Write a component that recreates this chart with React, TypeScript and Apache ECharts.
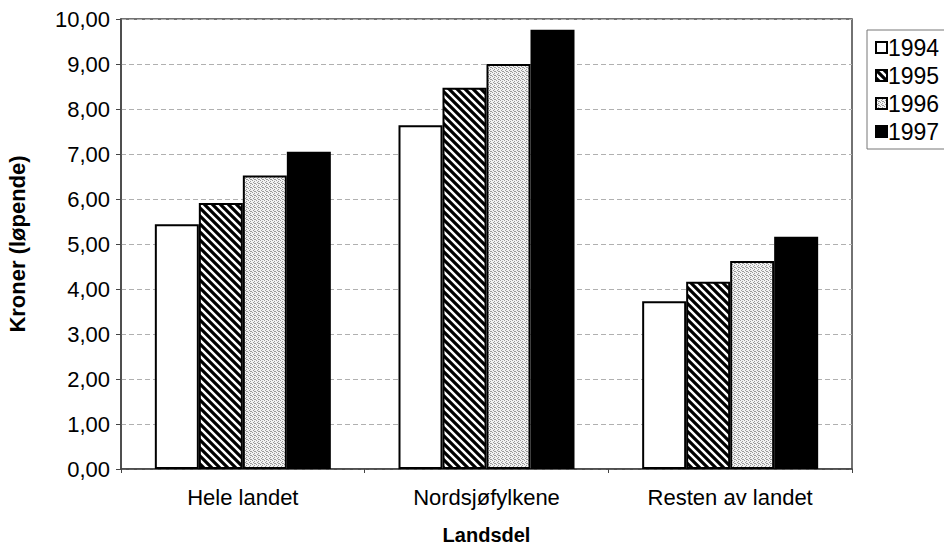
import React, { useEffect, useRef } from "react";
import * as echarts from "echarts";

const categories = ["Hele landet", "Nordsjøfylkene", "Resten av landet"];
const years = ["1994", "1995", "1996", "1997"];
const v1994 = [5.44, 7.64, 3.73];
const v1995 = [5.91, 8.47, 4.16];
const v1996 = [6.52, 9.0, 4.62];
const v1997 = [7.05, 9.76, 5.16];
const yTicks = [0, 1, 2, 3, 4, 5, 6, 7, 8, 9, 10];

const FONT = "'Liberation Sans', Arial, Helvetica, sans-serif";

function stripePattern() {
  const c = document.createElement("canvas");
  c.width = 8;
  c.height = 8;
  const g = c.getContext("2d")!;
  g.fillStyle = "#fff";
  g.fillRect(0, 0, 8, 8);
  g.strokeStyle = "#000";
  g.lineWidth = 3.2;
  g.beginPath();
  g.moveTo(-2, -2);
  g.lineTo(10, 10);
  g.moveTo(-2, 6);
  g.lineTo(2, 10);
  g.moveTo(6, -2);
  g.lineTo(10, 2);
  g.stroke();
  return { image: c, repeat: "repeat", imageWidth: 8, imageHeight: 8 } as any;
}

function stipplePattern() {
  const c = document.createElement("canvas");
  c.width = 4;
  c.height = 4;
  const g = c.getContext("2d")!;
  g.fillStyle = "#f2f2f2";
  g.fillRect(0, 0, 4, 4);
  g.fillStyle = "#9a9a9a";
  const pts = [
    [0, 0],
    [2, 1],
    [1, 2],
    [3, 3],
    [2, 3],
  ];
  pts.forEach(([x, y]) => g.fillRect(x, y, 1, 1));
  return { image: c, repeat: "repeat", imageWidth: 4, imageHeight: 4 } as any;
}

export default function App() {
  const ref = useRef<HTMLDivElement>(null);
  useEffect(() => {
    if (!ref.current) return;
    const chart = echarts.init(ref.current, null, { renderer: "svg" });
    const fills = ["#ffffff", stripePattern(), stipplePattern(), "#000000"];
    const values = [v1994, v1995, v1996, v1997];
    chart.setOption({
      animation: false,
      backgroundColor: "#ffffff",
      textStyle: { fontFamily: FONT, color: "#000" },
      grid: {
        left: 121,
        right: 92,
        top: 19,
        bottom: 80,
        show: true,
        borderColor: "#444",
        borderWidth: 1.5,
        containLabel: false,
        outerBoundsMode: "none",
      },
      legend: {
        orient: "vertical",
        left: 867,
        top: 30,
        data: years,
        icon: "rect",
        itemWidth: 11,
        itemHeight: 11,
        itemGap: 5,
        padding: [6, 10, 6, 8],
        borderColor: "#777",
        borderWidth: 1,
        textStyle: { fontFamily: FONT, fontSize: 23, color: "#000", padding: [0, 0, 0, -4] },
        itemStyle: { borderColor: "#000", borderWidth: 2 },
      },
      xAxis: {
        type: "category",
        data: categories,
        name: "Landsdel",
        nameLocation: "middle",
        nameGap: 56,
        nameTextStyle: { fontFamily: FONT, fontSize: 20, fontWeight: "bold", color: "#000" },
        axisLine: { show: true, lineStyle: { color: "#444", width: 1.5 } },
        axisTick: { show: true, length: 4, lineStyle: { color: "#444" } },
        axisLabel: { fontFamily: FONT, fontSize: 22, color: "#000", margin: 17 },
      },
      yAxis: {
        type: "value",
        min: 0,
        max: 10,
        interval: 1,
        name: "Kroner (løpende)",
        nameLocation: "middle",
        nameGap: 93,
        nameTextStyle: { fontFamily: FONT, fontSize: 22, fontWeight: "bold", color: "#000" },
        axisLine: { show: true, lineStyle: { color: "#444", width: 1.5 } },
        axisTick: { show: true, length: 5, lineStyle: { color: "#444" } },
        axisLabel: {
          fontFamily: FONT,
          fontSize: 22,
          color: "#000",
          margin: 11,
          formatter: (v: number) => (yTicks.includes(v) ? v.toFixed(2).replace(".", ",") : ""),
        },
        splitLine: { show: true, lineStyle: { color: "#b0b0b0", width: 1, type: [5, 3] } },
      },
      series: years.map((y, i) => ({
        name: y,
        type: "bar",
        data: values[i],
        barWidth: 44,
        barGap: "0%",
        itemStyle: { color: fills[i], borderColor: "#000", borderWidth: 2 },
      })),
    });
    return () => chart.dispose();
  }, []);
  return (
    <div
      ref={ref}
      style={{ position: "fixed", left: 0, top: 0, width: 944, height: 549, background: "#fff" }}
    />
  );
}
